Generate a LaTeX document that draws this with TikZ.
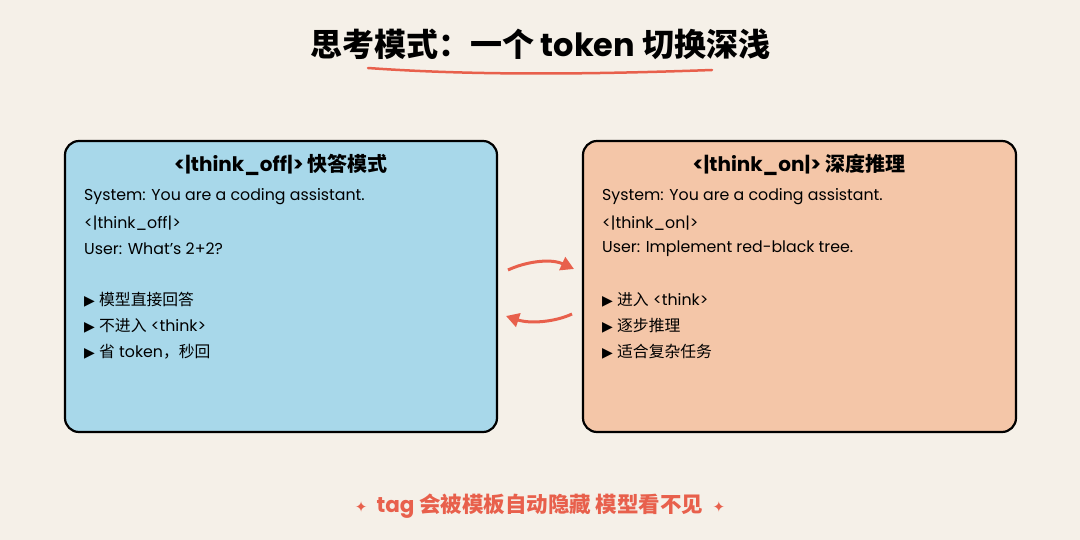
\documentclass[tikz,border=0pt]{standalone}
\usepackage{fontspec}
\setmainfont{Poppins}
\newfontfamily\cjk{Noto Sans CJK SC}
\newfontfamily\symf{DejaVu Sans}
\usetikzlibrary{arrows.meta}
\definecolor{bg}{HTML}{F5F0E8}
\definecolor{bluef}{HTML}{A8D8EA}
\definecolor{orf}{HTML}{F4C6A8}
\definecolor{redc}{HTML}{E8604C}
\tikzset{
 panel/.style={draw=black,line width=2.2pt,rounded corners=14pt},
 head/.style={font=\fontsize{20}{22}\selectfont\bfseries,anchor=center},
 line/.style={font=\fontsize{15.8}{18}\selectfont,anchor=west,inner sep=0pt},
 swap/.style={draw=redc,line width=3pt,-{Triangle[length=13pt,width=14pt]}},
}
\newcommand{\bul}{{\symf\fontsize{14}{16}\selectfont ▶}\ }
\begin{document}
\begin{tikzpicture}[x=1pt,y=-1pt]
\fill[bg] (0,0) rectangle (1080,540);
\useasboundingbox (0,0) rectangle (1080,540);
\node[font=\fontsize{32}{34}\selectfont\bfseries] (title) at (540,44) {{\cjk 思考模式：一个} token {\cjk 切换深浅}};
\draw[redc,line width=2.5pt,line cap=round] (368,68) .. controls (480,76) and (600,74) .. (712,70);
\draw[panel,fill=bluef] (65,141) rectangle (497,432);
\draw[panel,fill=orf] (583,141) rectangle (1016,432);
\coordinate (s1) at (508,270); \coordinate (e1) at (574,269);
\coordinate (s2) at (572,314); \coordinate (e2) at (506,316);
\node[head] (h1) at (281,165) {<|think\_off|> {\cjk 快答模式}};
\node[line] (a1) at (84,197) {System: You are a coding assistant.};
\node[line] (a2) at (84,223) {<|think\_off|>};
\node[line] (a3) at (84,249) {User: What's 2+2?};
\node[line] (a4) at (84,300) {\bul {\cjk 模型直接回答}};
\node[line] (a5) at (84,326) {\bul {\cjk 不进入} <think>};
\node[line] (a6) at (84,352) {\bul {\cjk 省} token{\cjk ，秒回}};
\node[head] (h2) at (799,165) {<|think\_on|> {\cjk 深度推理}};
\node[line] (b1) at (602,197) {System: You are a coding assistant.};
\node[line] (b2) at (602,223) {<|think\_on|>};
\node[line] (b3) at (602,249) {User: Implement red-black tree.};
\node[line] (b4) at (602,300) {\bul {\cjk 进入} <think>};
\node[line] (b5) at (602,326) {\bul {\cjk 逐步推理}};
\node[line] (b6) at (602,352) {\bul {\cjk 适合复杂任务}};
\draw[swap] (s1) .. controls (525,262) and (550,258) .. (e1);
\draw[swap] (s2) .. controls (555,322) and (530,324) .. (e2);
\node[font=\fontsize{21.5}{24}\selectfont\bfseries,text=redc] (foot) at (540,506) {{\symf\fontsize{15}{16}\selectfont ✦}\ \ tag {\cjk 会被模板自动隐藏 模型看不见}\ \ {\symf\fontsize{15}{16}\selectfont ✦}};
\end{tikzpicture}
\end{document}
